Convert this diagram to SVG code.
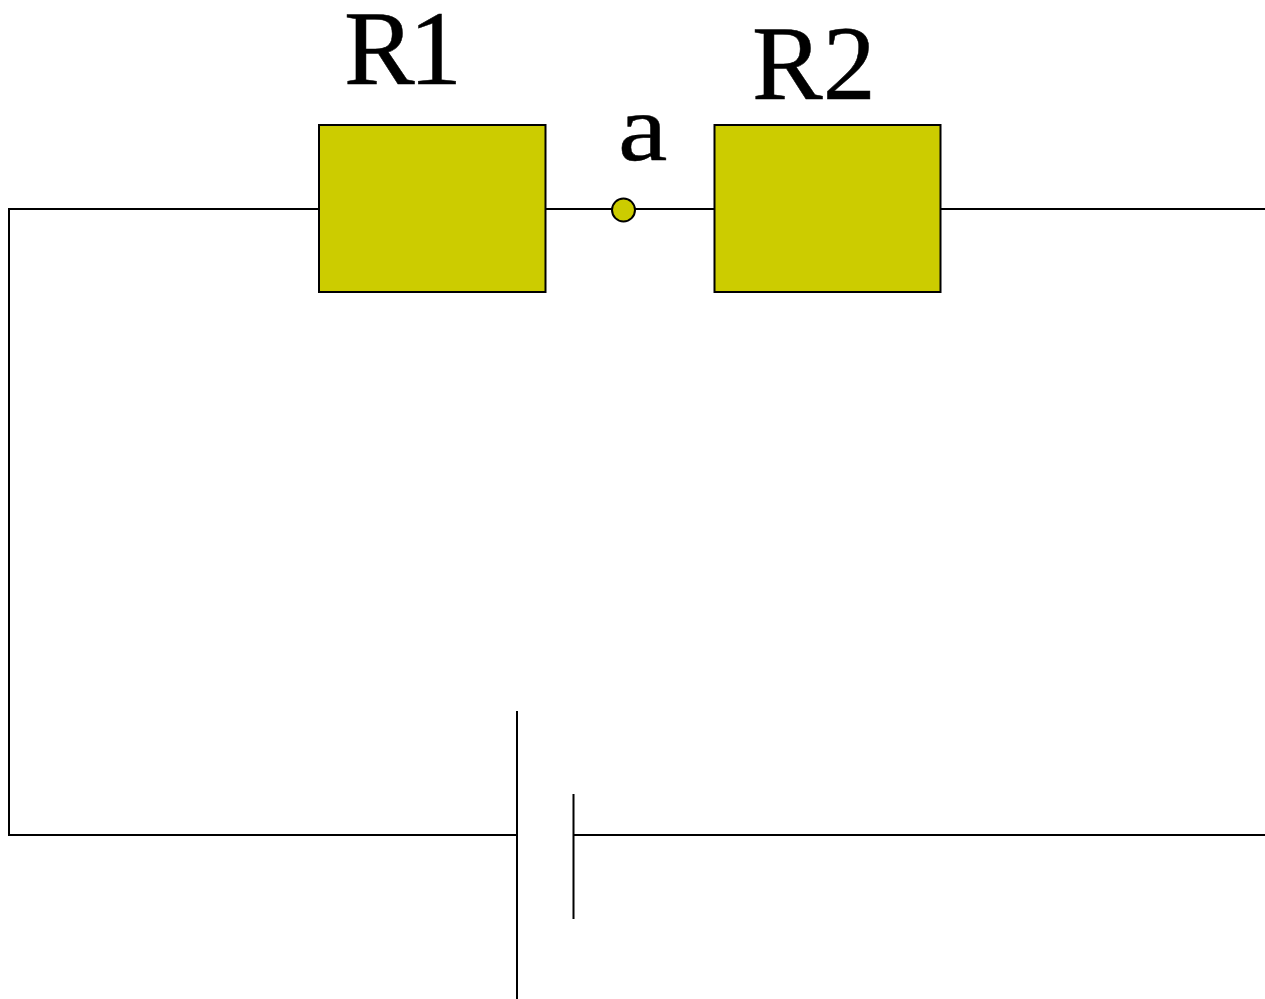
<svg xmlns="http://www.w3.org/2000/svg" width="1265" height="999" viewBox="0 0 1265 999">
<style>
.w{stroke:#000;stroke-width:2;fill:none}
.r{fill:#cccc00;stroke:#000;stroke-width:2}
.t{font-family:"Liberation Serif","Times New Roman",serif;font-size:106px;fill:#000;stroke:#000;stroke-width:.5;text-rendering:geometricPrecision}
</style>
<rect width="1265" height="999" fill="#fff"/>
<g id="connectors">
<path class="w" d="M1265 209H941M714 209H546M319 209H9V835H517M574 835H1265"/>
<path class="w" d="M517 711V999M573.500 794V919"/>
</g>
<g id="R1"><rect class="r" x="319" y="125" width="226.500" height="167"/><text class="t" x="344 409" y="84">R1</text></g>
<g id="R2"><rect class="r" x="714.500" y="125" width="226" height="167"/><text class="t" x="752" y="99">R2</text></g>
<g id="a"><circle class="r" cx="623.500" cy="210" r="11.500"/><text class="t" transform="translate(618 160) scale(1.05 .9)" x="0" y="0">a</text></g>
</svg>
